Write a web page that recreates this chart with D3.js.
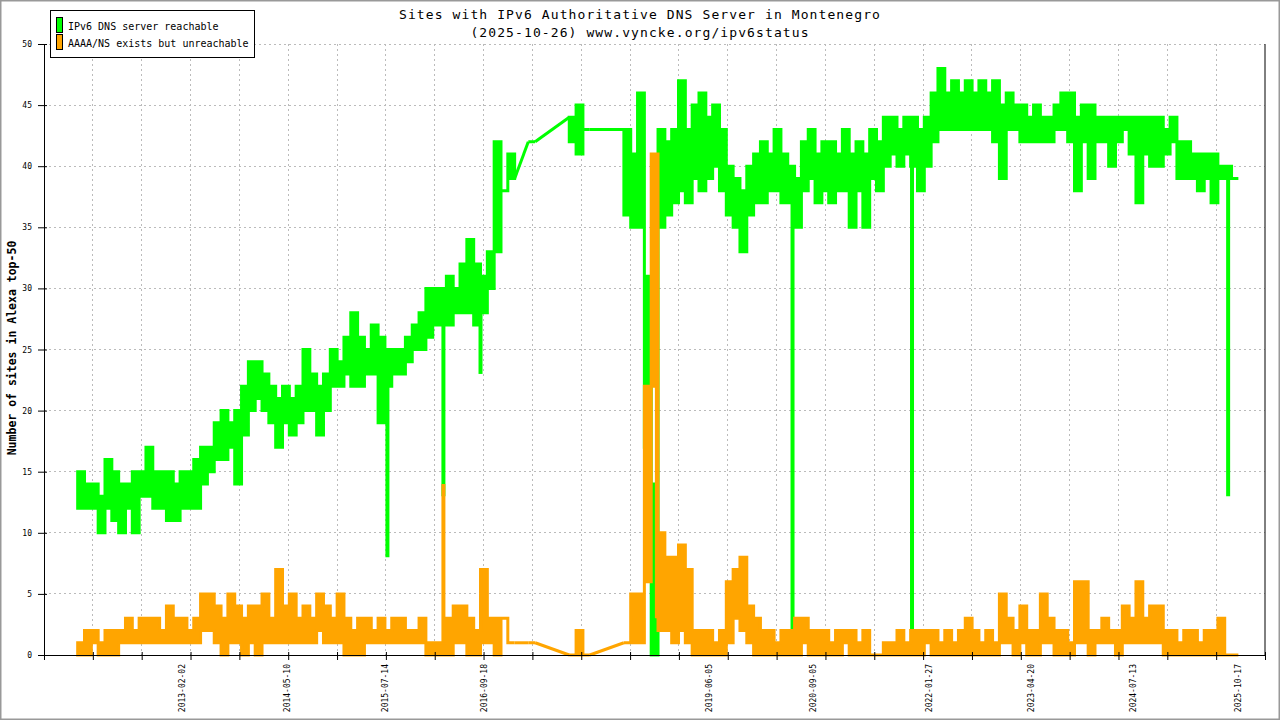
<!DOCTYPE html>
<html>
<head>
<meta charset="utf-8">
<script src="https://cdn.jsdelivr.net/npm/d3@7"></script>
<style>
  body { margin: 0; background: #fff; }
  svg { display: block; }
  text { font-family: 'DejaVu Sans Mono', monospace; fill: #000; }
</style>
</head>
<body>
<div id="chart"></div>
<script>
// Sites with IPv6 authoritative DNS, Montenegro (vyncke.org ipv6status)
const titleLines = [
  'Sites with IPv6 Authoritative DNS Server in Montenegro',
  '(2025-10-26) www.vyncke.org/ipv6status'
]
const yTitle = 'Number of sites in Alexa top-50'
const seriesNames = ['IPv6 DNS server reachable', 'AAAA/NS exists but unreachable']
const seriesColors = ['#00ff00', '#ffa500']

const yTicks = [0, 5, 10, 15, 20, 25, 30, 35, 40, 45, 50]
const xDomain = ['2011-06-05', '2026-02-11']
const xTickCount = 26
const xLabelDates = ['2013-02-02', '2014-05-10', '2015-07-14', '2016-09-18', '2019-06-05',
  '2020-09-05', '2022-01-27', '2023-04-20', '2024-07-13', '2025-10-17']

// daily values are very noisy: kept as [max, min] per 30-day bucket, null = no samples
const bucketStart = '2011-10-31'
const bucketDays = 30

const greenRange = [
  [15,12], [14,12], [14,12], [13,10], [16,12], [15,11], [14,10], [14,12], [15,10], [15,13],
  [17,13], [15,12], [15,12], [15,11], [14,11], [15,12], [15,12], [16,12], [17,14], [17,15],
  [19,16], [20,16], [19,17], [20,14], [22,18], [24,20], [24,21], [23,20], [22,19], [21,17],
  [22,19], [21,18], [22,19], [25,20], [23,20], [22,18], [23,20], [25,22], [24,22], [26,23],
  [28,22], [26,22], [25,23], [27,23], [26,19], [25,22], [25,23], [25,23], [26,24], [27,25],
  [28,25], [30,26], [30,27], [30,27], [31,27], [30,28], [32,28], [34,28], [32,27], [31,28],
  [33,30], [42,33], [38,38], [41,39], null, null, [42,42], null, null, null,
  null, null, [44,42], [45,41], [43,43], null, null, null, null, null,
  [43,36], [41,35], [46,35], [31,17], [14,0], [43,35], [42,36], [43,37], [47,38], [43,37],
  [45,39], [46,38], [44,39], [45,40], [43,38], [40,36], [39,35], [38,33], [40,36], [41,37],
  [42,37], [41,38], [43,38], [41,37], [40,37], [39,35], [42,38], [43,39], [41,37], [42,38],
  [42,37], [41,38], [43,38], [41,35], [42,38], [41,35], [43,39], [42,38], [44,40], [44,41],
  [43,40], [44,41], [44,40], [43,38], [44,40], [46,42], [48,43], [46,43], [47,43], [46,43],
  [47,43], [46,43], [47,43], [46,43], [47,42], [45,39], [46,43], [45,43], [45,42], [44,42],
  [45,42], [44,42], [44,42], [45,43], [46,43], [46,42], [44,38], [45,42], [45,39], [44,42],
  [44,42], [44,40], [44,42], [44,43], [44,41], [44,37], [44,41], [44,40], [44,40], [43,41],
  [44,42], [42,39], [42,39], [41,39], [41,38], [41,39], [41,37], [40,39], [40,39], [39,39]
]

const orangeRange = [
  [1,0], [2,0], [2,1], [1,0], [2,0], [2,0], [2,1], [3,1], [2,1], [3,1],
  [3,1], [3,1], [2,1], [4,1], [3,1], [3,1], [2,1], [3,1], [5,2], [5,2],
  [4,1], [3,0], [5,1], [4,1], [3,0], [4,1], [4,0], [5,1], [3,1], [7,1],
  [4,1], [5,1], [3,1], [4,1], [3,1], [5,2], [4,1], [3,1], [5,1], [3,0],
  [2,0], [3,0], [3,1], [2,1], [3,1], [2,1], [3,1], [3,1], [2,1], [2,1],
  [3,1], [1,0], [1,0], [1,0], [3,0], [4,1], [4,1], [3,0], [2,0], [7,1],
  [3,1], [3,0], [3,3], [1,1], null, null, [1,1], null, null, null,
  null, null, [0,0], [2,0], [0,0], null, null, null, null, null,
  [1,1], [5,1], [5,1], [22,6], [41,22], [10,2], [8,2], [8,1], [9,2], [7,1],
  [2,0], [2,0], [2,0], [1,0], [2,0], [6,1], [7,3], [8,2], [4,1], [3,0],
  [2,0], [2,0], [1,0], [2,0], [2,0], [3,0], [3,1], [2,0], [2,0], [2,0],
  [1,0], [2,0], [2,1], [2,0], [1,0], [2,0], [0,0], [0,0], [1,0], [1,0],
  [2,0], [1,0], [2,0], [2,0], [2,1], [2,0], [1,0], [2,0], [1,0], [2,0],
  [3,0], [2,0], [1,0], [2,0], [1,0], [5,1], [3,1], [2,0], [4,1], [2,0],
  [2,0], [5,1], [3,1], [2,0], [2,0], [1,0], [6,1], [6,1], [2,0], [2,1],
  [3,1], [2,1], [2,0], [4,1], [3,1], [6,1], [3,1], [4,1], [4,1], [2,0],
  [2,0], [1,0], [2,0], [2,0], [1,0], [2,0], [2,0], [3,0], [0,0], [0,0]
]

// single-day outliers
const greenSpikes = [['2015-07-23', 8], ['2016-03-25', 13], ['2016-09-04', 23],
  ['2020-06-06', 0], ['2021-11-13', 0], ['2025-09-02', 13]]
const orangeSpikes = [['2016-03-25', 14], ['2018-10-19', 3]]

const W = 1280, H = 720
const plot = { left: 44, right: 1265, top: 44, bottom: 655 }
const parse = d3.utcParse('%Y-%m-%d')

const svg = d3.select('#chart').append('svg')
  .attr('width', W).attr('height', H)

svg.append('rect')
  .attr('x', 0.75).attr('y', 0.75).attr('width', W - 1.5).attr('height', H - 1.5)
  .attr('fill', '#fff').attr('stroke', '#999').attr('stroke-width', 1.5)

const x = d3.scaleUtc()
  .domain(xDomain.map(parse))
  .range([plot.left, plot.right])
const y = d3.scaleLinear()
  .domain([0, 50])
  .range([plot.bottom, plot.top])

const [t0, t1] = x.domain()
const xTicks = d3.range(xTickCount).map(i => new Date(+t0 + (t1 - t0) * i / (xTickCount - 1)))

// grid
const grid = svg.append('g')
  .attr('stroke', '#bbb').attr('stroke-dasharray', '2,3')
  .attr('shape-rendering', 'crispEdges')
grid.selectAll('.gy').data(yTicks).join('line')
  .attr('x1', plot.left).attr('x2', plot.right)
  .attr('y1', d => y(d)).attr('y2', d => y(d))
grid.selectAll('.gx').data(xTicks.slice(1, -1)).join('line')
  .attr('x1', d => x(d)).attr('x2', d => x(d))
  .attr('y1', plot.top).attr('y2', plot.bottom)

// series
const start = parse(bucketStart)
const bucketTime = i => d3.utcDay.offset(start, i * bucketDays)

const band = d3.area()
  .defined(d => d.r != null)
  .x(d => x(d.t))
  .y0(d => y(d.r[1]))
  .y1(d => y(d.r[0]))

const seg = d3.line()
  .x(d => x(d.t))
  .y(d => y(d.v))

function bandPoints(ranges) {
  const pts = []
  ranges.forEach((r, i) => {
    if (r) pts.push({ t: bucketTime(i), r }, { t: bucketTime(i + 1), r })
    else pts.push({ t: bucketTime(i), r: null })
  })
  return pts
}

// straight joins across empty buckets
function bridges(ranges) {
  const out = []
  let last = -1
  ranges.forEach((r, i) => {
    if (!r) return
    if (last >= 0 && i - last > 1) {
      out.push([{ t: bucketTime(last + 1), v: ranges[last][1] }, { t: bucketTime(i), v: r[0] }])
    }
    last = i
  })
  return out
}

function spikeSegments(ranges, spikes) {
  return spikes.map(([d, v]) => {
    const t = parse(d)
    const r = ranges[Math.floor(d3.utcDay.count(start, t) / bucketDays)]
    const from = v < r[1] ? r[1] : r[0]
    return [{ t, v: from }, { t, v }]
  })
}

const series = [[greenRange, greenSpikes], [orangeRange, orangeSpikes]]
series.forEach(([ranges, spikes], k) => {
  const g = svg.append('g')
    .attr('stroke', seriesColors[k])
    .attr('stroke-width', 3)
  g.append('path')
    .datum(bandPoints(ranges))
    .attr('fill', seriesColors[k])
    .attr('stroke-linejoin', 'miter')
    .attr('d', band)
  g.selectAll('.bridge').data(bridges(ranges)).join('path')
    .attr('fill', 'none')
    .attr('d', seg)
  g.selectAll('.spike').data(spikeSegments(ranges, spikes)).join('path')
    .attr('fill', 'none')
    .attr('stroke-width', 4)
    .attr('d', seg)
})

// axes
const yAxis = svg.append('g')
  .attr('transform', `translate(${plot.left},0)`)
  .call(d3.axisLeft(y).tickValues(yTicks).tickSizeInner(6).tickSizeOuter(0).tickPadding(6))
yAxis.select('.domain').attr('stroke', '#000')
yAxis.selectAll('.tick line').attr('x1', 3).attr('stroke', '#000')
yAxis.selectAll('.tick text')
  .style('font-family', "'DejaVu Sans Mono', monospace").style('font-size', '8px')

const xAxis = svg.append('g')
  .attr('transform', `translate(0,${plot.bottom})`)
  .call(d3.axisBottom(x).tickValues(xTicks).tickFormat('').tickSizeInner(5).tickSizeOuter(0))
xAxis.select('.domain').attr('stroke', '#000')
xAxis.selectAll('.tick line').attr('y1', -3).attr('stroke', '#000')

svg.append('line')
  .attr('x1', plot.right).attr('x2', plot.right)
  .attr('y1', plot.top).attr('y2', plot.bottom)
  .attr('stroke', '#000')

svg.append('g').selectAll('text').data(xLabelDates).join('text')
  .attr('transform', d => `translate(${x(parse(d))},${plot.bottom + 9}) rotate(-90)`)
  .attr('text-anchor', 'end')
  .attr('dy', '0.35em')
  .style('font-size', '8px')
  .text(d => d)

// titles
svg.append('g').selectAll('text').data(titleLines).join('text')
  .attr('x', W / 2).attr('y', (d, i) => 19 + i * 18)
  .attr('text-anchor', 'middle')
  .style('font-size', '13px').style('letter-spacing', '1.1px')
  .text(d => d)

svg.append('text')
  .attr('transform', 'translate(16,348) rotate(-90)')
  .attr('text-anchor', 'middle')
  .style('font-size', '11.5px').style('font-weight', 'bold')
  .text(yTitle)

// legend
const legend = svg.append('g')
legend.append('rect')
  .attr('x', 50.5).attr('y', 10.5).attr('width', 204).attr('height', 47)
  .attr('fill', '#fff').attr('stroke', '#000')
seriesNames.forEach((name, k) => {
  legend.append('rect')
    .attr('x', 56.5).attr('y', 17.5 + k * 17).attr('width', 6).attr('height', 15)
    .attr('fill', seriesColors[k]).attr('stroke', '#000')
  legend.append('text')
    .attr('x', 68).attr('y', 29.5 + k * 17)
    .style('font-size', '10px')
    .text(name)
})
</script>
</body>
</html>
